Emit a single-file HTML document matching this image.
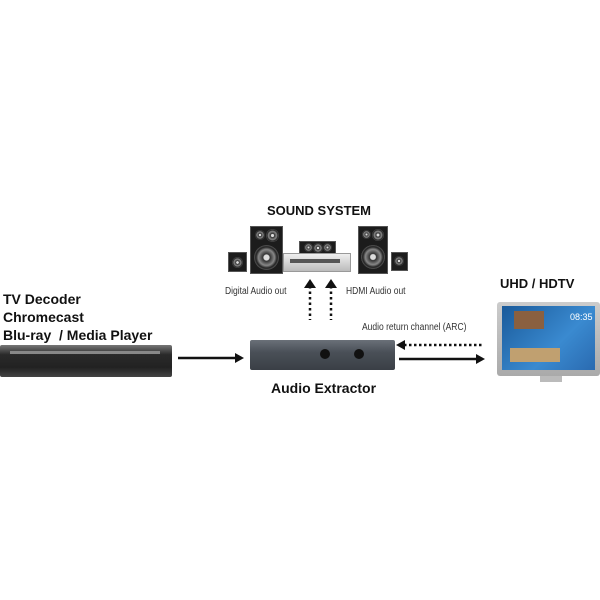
<!DOCTYPE html>
<html><head><style>
body{margin:0;width:600px;height:600px;background:#fff;position:relative;overflow:hidden;font-family:"Liberation Sans",sans-serif}
.a{position:absolute}
.b{font-weight:bold;color:#111}
.s{font-size:10px;color:#333;transform:scaleX(.85);transform-origin:left}
.spk{background:#1c1c1c;border:1px solid #555}
.cone{position:absolute;border-radius:50%;background:radial-gradient(circle,#ddd 0 15%,#333 20%,#888 45%,#222 60%,#555 70%,#111 72%)}
</style></head><body>
<div class="a b" style="left:267px;top:203px;font-size:13px">SOUND SYSTEM</div>
<!-- speakers -->
<div class="a spk" style="left:228px;top:252px;width:17px;height:18px"><div class="cone" style="left:3px;top:4px;width:11px;height:11px"></div></div>
<div class="a spk" style="left:250px;top:226px;width:31px;height:46px"><div class="cone" style="left:4px;top:3px;width:10px;height:10px"></div><div class="cone" style="left:15px;top:2px;width:13px;height:13px"></div><div class="cone" style="left:3px;top:18px;width:25px;height:25px"></div></div>
<div class="a spk" style="left:299px;top:241px;width:35px;height:12px"><div class="cone" style="left:4px;top:1px;width:9px;height:9px"></div><div class="cone" style="left:13px;top:1px;width:10px;height:10px"></div><div class="cone" style="left:23px;top:1px;width:9px;height:9px"></div></div>
<div class="a" style="left:283px;top:253px;width:66px;height:17px;background:linear-gradient(#eee,#bbb);border:1px solid #999"><div class="a" style="left:6px;top:5px;width:50px;height:4px;background:#555"></div></div>
<div class="a spk" style="left:358px;top:226px;width:28px;height:46px"><div class="cone" style="left:3px;top:3px;width:9px;height:9px"></div><div class="cone" style="left:13px;top:2px;width:12px;height:12px"></div><div class="cone" style="left:2px;top:18px;width:24px;height:24px"></div></div>
<div class="a spk" style="left:391px;top:252px;width:15px;height:17px"><div class="cone" style="left:2px;top:3px;width:10px;height:10px"></div></div>
<div class="a s" style="left:225px;top:286px">Digital Audio out</div>
<div class="a s" style="left:346px;top:286px">HDMI Audio out</div>
<div class="a s" style="left:362px;top:322px">Audio return channel (ARC)</div>
<svg class="a" style="left:0;top:0" width="600" height="600">
<g stroke="#111" stroke-width="2.5" fill="none">
<line x1="310" y1="286" x2="310" y2="320" stroke-dasharray="2.5 3"/>
<line x1="331" y1="286" x2="331" y2="320" stroke-dasharray="2.5 3"/>
<line x1="404" y1="345" x2="484" y2="345" stroke-dasharray="2.5 2.5"/>
<line x1="178" y1="358" x2="236" y2="358"/>
<line x1="399" y1="359" x2="476" y2="359"/>
</g>
<g fill="#111">
<polygon points="304,288 310,279 316,288"/><polygon points="325,288 331,279 337,288"/>
<polygon points="396,345 405,340 405,350"/>
<polygon points="244,358 235,353 235,363"/><polygon points="485,359 476,354 476,364"/>
</g>
</svg>
<div class="a b" style="left:3px;top:290px;font-size:14px;line-height:18px">TV Decoder<br>Chromecast<br>Blu-ray &nbsp;/ Media Player</div>
<div class="a" style="left:0;top:345px;width:172px;height:32px;background:linear-gradient(#777,#2a2a2a 30%,#222 70%,#444);border-radius:2px"><div class="a" style="left:10px;top:6px;width:150px;height:3px;background:#888"></div></div>
<div class="a" style="left:250px;top:340px;width:145px;height:30px;background:linear-gradient(#6a7078,#4a5058 40%,#3a3f46);border-radius:2px">
<div class="a" style="left:70px;top:9px;width:10px;height:10px;border-radius:50%;background:#111"></div>
<div class="a" style="left:104px;top:9px;width:10px;height:10px;border-radius:50%;background:#111"></div></div>
<div class="a b" style="left:271px;top:380px;font-size:14px">Audio Extractor</div>
<div class="a b" style="left:500px;top:276px;font-size:13px">UHD / HDTV</div>
<div class="a" style="left:497px;top:302px;width:103px;height:74px;background:linear-gradient(#ccc,#aaa);border-radius:3px">
<div class="a" style="left:5px;top:4px;width:93px;height:64px;background:linear-gradient(135deg,#1a5a9a,#3a8ad0 60%,#2a6ab0)">
<div class="a" style="left:12px;top:5px;width:30px;height:18px;background:#8a6040"></div>
<div class="a" style="left:68px;top:6px;color:#fff;font-size:9px">08:35</div>
<div class="a" style="left:8px;top:42px;width:50px;height:14px;background:#c0a070"></div></div></div>
<div class="a" style="left:540px;top:376px;width:22px;height:6px;background:#bbb"></div>
</body></html>
